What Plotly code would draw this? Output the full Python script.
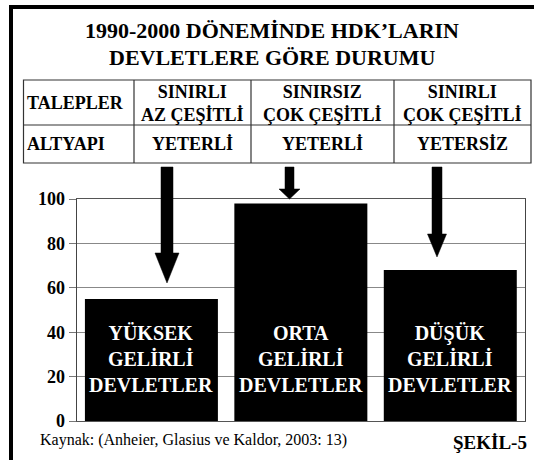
import plotly.graph_objects as go

W, H = 534, 460

# ---- data ----
categories = ["YÜKSEK<br>GELİRLİ<br>DEVLETLER", "ORTA<br>GELİRLİ<br>DEVLETLER", "DÜŞÜK<br>GELİRLİ<br>DEVLETLER"]
values = [55, 98, 68]
y_ticks = [0, 20, 40, 60, 80, 100]
title_lines = ["1990-2000 DÖNEMİNDE HDK’LARIN", "DEVLETLERE GÖRE DURUMU"]
row_labels = ["TALEPLER", "ALTYAPI"]
talepler = ["SINIRLI<br>AZ ÇEŞİTLİ", "SINIRSIZ<br>ÇOK ÇEŞİTLİ", "SINIRLI<br>ÇOK ÇEŞİTLİ"]
altyapi = ["YETERLİ", "YETERLİ", "YETERSİZ"]
source_text = "Kaynak: (Anheier, Glasius ve Kaldor, 2003: 13)"
figure_label = "ŞEKİL-5"

SERIF = "Liberation Serif"

def px(x):
    return x / W

def py(y):
    return 1 - y / H

fig = go.Figure()
fig.add_trace(go.Bar(
    x=categories, y=values, width=0.89,
    marker=dict(color="black", line=dict(width=0)),
    hoverinfo="skip",
))

# outer border (left + top visible)
fig.add_shape(type="line", xref="paper", yref="paper", x0=px(11), x1=px(540), y0=py(7), y1=py(7),
              line=dict(color="black", width=4))
fig.add_shape(type="line", xref="paper", yref="paper", x0=px(11), x1=px(11), y0=py(5), y1=py(470),
              line=dict(color="black", width=4))

# title
for i, t in enumerate(title_lines):
    fig.add_annotation(text="<b>%s</b>" % t, x=px(272), y=py(31 + i * 26), xref="paper", yref="paper",
                       showarrow=False, xanchor="center", yanchor="middle",
                       font=dict(family=SERIF, size=22, color="black"))

# table
tx0, tx1 = 23.5, 531
ty0, tmid, ty1 = 80, 125, 163
cols = [tx0, 134, 251, 394, tx1]
tcol = "#333333"
fig.add_shape(type="rect", xref="paper", yref="paper", x0=px(tx0), x1=px(tx1), y0=py(ty0), y1=py(ty1),
              line=dict(color=tcol, width=1.2))
fig.add_shape(type="line", xref="paper", yref="paper", x0=px(tx0), x1=px(tx1), y0=py(tmid), y1=py(tmid),
              line=dict(color=tcol, width=1.2))
for c in cols[1:-1]:
    fig.add_shape(type="line", xref="paper", yref="paper", x0=px(c), x1=px(c), y0=py(ty0), y1=py(ty1),
                  line=dict(color=tcol, width=1.2))
tfont = dict(family=SERIF, size=18, color="black")
for r, lab in enumerate(row_labels):
    yc = (ty0 + tmid) / 2 if r == 0 else (tmid + ty1) / 2
    fig.add_annotation(text="<b>%s</b>" % lab, x=px(tx0 + 1), y=py(yc), xref="paper", yref="paper",
                       showarrow=False, xanchor="left", yanchor="middle", font=tfont)
for i in range(3):
    xc = (cols[i + 1] + cols[i + 2]) / 2
    fig.add_annotation(text="<b>%s</b>" % talepler[i], x=px(xc), y=py((ty0 + tmid) / 2 + 1), xref="paper",
                       yref="paper", showarrow=False, xanchor="center", yanchor="middle", font=tfont)
    fig.add_annotation(text="<b>%s</b>" % altyapi[i], x=px(xc), y=py((tmid + ty1) / 2), xref="paper",
                       yref="paper", showarrow=False, xanchor="center", yanchor="middle", font=tfont)

# arrows (decorative)
arrows = [  # cx, half shaft, y_top, y_head, y_tip, half head
    (167, 6, 167, 253, 283, 12),
    (289.5, 4.5, 167, 189, 199, 10.5),
    (437, 5, 167, 234, 257, 9.5),
]
for cx, hs, yt, yh, ytip, hh in arrows:
    path = "M {a},{b} L {c},{b} L {c},{d} L {e},{d} L {f},{g} L {h},{d} L {a2},{d} Z".format(
        a=px(cx - hs), b=py(yt), c=px(cx + hs), d=py(yh), e=px(cx + hh), f=px(cx), g=py(ytip),
        h=px(cx - hh), a2=px(cx - hs))
    fig.add_shape(type="path", xref="paper", yref="paper", path=path,
                  fillcolor="black", line=dict(color="black", width=0.5))

# bar labels
for c in categories:
    fig.add_annotation(text="<b>%s</b>" % c, x=c, y=28, xref="x", yref="y", showarrow=False,
                       xanchor="center", yanchor="middle",
                       font=dict(family=SERIF, size=20, color="white"))

# footer
fig.add_annotation(text=source_text, x=px(38), y=py(440), xref="paper", yref="paper", showarrow=False,
                   xanchor="left", yanchor="middle", font=dict(family=SERIF, size=16, color="black"))
fig.add_annotation(text="<b>%s</b>" % figure_label, x=px(529), y=py(442), xref="paper", yref="paper",
                   showarrow=False, xanchor="right", yanchor="middle",
                   font=dict(family=SERIF, size=19, color="black"))

fig.update_layout(
    template="none",
    width=W, height=H,
    margin=dict(l=0, r=0, t=0, b=0, pad=0, autoexpand=False),
    paper_bgcolor="white", plot_bgcolor="white",
    showlegend=False,
    font=dict(family=SERIF, color="black"),
    xaxis=dict(domain=[px(76.7), px(525)], showticklabels=False, ticks="", showgrid=False,
               automargin=False,
               showline=True, linecolor="#555555", linewidth=1, mirror=True, zeroline=False),
    yaxis=dict(domain=[py(421), py(199)], range=[0, 100], tickvals=y_ticks,
               ticktext=["<b>%d</b>" % v for v in y_ticks], automargin=False,
               ticks="outside", ticklen=7, tickcolor="#777777",
               showgrid=True, gridcolor="#888888", gridwidth=1,
               showline=True, linecolor="#444444", linewidth=1, mirror=True, zeroline=False,
               tickfont=dict(family=SERIF, size=18, color="black")),
    bargap=0.11,
)

fig.write_html("out.html", config={"displayModeBar": False},
               post_script="document.body.style.margin='0';document.body.style.overflow='hidden';")
